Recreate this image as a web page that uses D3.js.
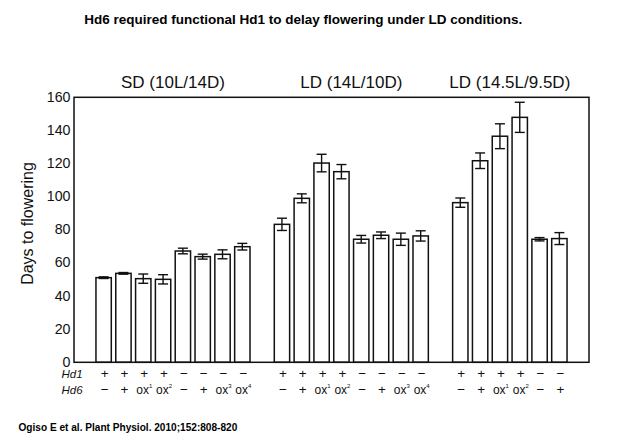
<!DOCTYPE html>
<html>
<head>
<meta charset="utf-8">
<script src="https://cdn.jsdelivr.net/npm/d3@7"></script>
<style>
  html, body { margin: 0; padding: 0; background: #fff; }
  svg { display: block; font-family: "Liberation Sans", Arial, Helvetica, sans-serif; }
</style>
</head>
<body>
<svg id="chart" width="621" height="446"></svg>
<script>
// ---- Data ----
const groupNames = ["SD (10L/14D)", "LD (14L/10D)", "LD (14.5L/9.5D)"];
const sdValues   = [51.1, 53.7, 50.5, 50.1, 67.2, 63.8, 65.2, 69.8];
const sdErrors   = [0.5, 0.5, 2.8, 2.8, 1.7, 1.5, 2.7, 2.0];
const ld14Values = [83.3, 99.0, 120.3, 115.1, 74.3, 76.7, 74.3, 76.3];
const ld14Errors = [3.7, 2.7, 5.3, 4.3, 2.3, 2.0, 3.7, 3.1];
const ld145Values = [96.4, 121.7, 136.5, 147.9, 74.3, 74.7];
const ld145Errors = [2.8, 4.7, 7.5, 9.1, 1.0, 3.6];
const hd1Labels = ["+", "+", "+", "+", "\u2212", "\u2212", "\u2212", "\u2212"];
const hd6Labels = ["\u2212", "+", "ox|1", "ox|2", "\u2212", "+", "ox|3", "ox|4"];
const yTicks = [0, 20, 40, 60, 80, 100, 120, 140, 160];
const titleText = "Hd6 required functional Hd1 to delay flowering under LD conditions.";
const sourceText = "Ogiso E et al. Plant Physiol. 2010;152:808-820";

// ---- Build bar table ----
const groupValues = [sdValues, ld14Values, ld145Values];
const groupErrors = [sdErrors, ld14Errors, ld145Errors];
const bars = [];
const slots = [];
groupValues.forEach((vals, g) => {
  vals.forEach((v, i) => {
    const key = g + "-" + i;
    slots.push(key);
    bars.push({ key, group: g, value: v, err: groupErrors[g][i], hd1: hd1Labels[i], hd6: hd6Labels[i] });
  });
  if (g < groupValues.length - 1) slots.push("gap" + g);
});

// ---- Layout ----
const frame = { left: 74, right: 589, top: 97.3, bottom: 362.3 };
const svg = d3.select("#chart");

const x = d3.scaleBand().domain(slots).range([frame.left, frame.right])
  .paddingInner(0.15).paddingOuter(1.07);
const y = d3.scaleLinear().domain([0, 160]).range([frame.bottom, frame.top]);

// Title
svg.append("text").attr("x", 303.3).attr("y", 24.3)
  .attr("text-anchor", "middle").attr("font-size", 13.5).attr("font-weight", "bold")
  .text(titleText);

// Source
svg.append("text").attr("x", 18.5).attr("y", 430.5)
  .attr("font-size", 10.1).attr("font-weight", "bold")
  .text(sourceText);

// Bars
svg.append("g").selectAll("rect").data(bars).join("rect")
  .attr("x", d => x(d.key) + 0.75)
  .attr("y", d => y(d.value))
  .attr("width", x.bandwidth() - 1.5)
  .attr("height", d => y(0) - y(d.value))
  .attr("fill", "#fff").attr("stroke", "#111").attr("stroke-width", 1.5);

// Error bars
const eb = svg.append("g").attr("stroke", "#111").attr("stroke-width", 1.4);
const cap = 5;
bars.forEach(d => {
  const cx = x(d.key) + x.bandwidth() / 2;
  eb.append("line").attr("x1", cx).attr("x2", cx).attr("y1", y(d.value + d.err)).attr("y2", y(d.value - d.err));
  eb.append("line").attr("x1", cx - cap).attr("x2", cx + cap).attr("y1", y(d.value + d.err)).attr("y2", y(d.value + d.err));
  eb.append("line").attr("x1", cx - cap).attr("x2", cx + cap).attr("y1", y(d.value - d.err)).attr("y2", y(d.value - d.err));
});

// Frame
svg.append("rect").attr("x", frame.left).attr("y", frame.top)
  .attr("width", frame.right - frame.left).attr("height", frame.bottom - frame.top)
  .attr("fill", "none").attr("stroke", "#111").attr("stroke-width", 1.5);

// Y axis
const yAxis = svg.append("g").attr("transform", `translate(${frame.left},0)`)
  .call(d3.axisLeft(y).tickValues(yTicks).tickSize(0).tickPadding(3.5));
yAxis.select(".domain").remove();
yAxis.selectAll("text").attr("font-size", 14.2).attr("fill", "#111")
  .attr("dy", "0.28em")
  .attr("font-family", "'Liberation Sans', Arial, sans-serif");

// Y label
svg.append("text").attr("transform", "translate(32.5,223.5) rotate(-90)")
  .attr("text-anchor", "middle").attr("font-size", 16).attr("fill", "#111")
  .text("Days to flowering");

// Group titles
groupNames.forEach((name, g) => {
  const gb = bars.filter(b => b.group === g);
  const x0 = x(gb[0].key), x1 = x(gb[gb.length - 1].key) + x.bandwidth();
  svg.append("text").attr("x", (x0 + x1) / 2).attr("y", 88)
    .attr("text-anchor", "middle").attr("font-size", 17).attr("fill", "#111")
    .text(name);
});

// Genotype row labels
svg.append("text").attr("x", 61.5).attr("y", 378).attr("font-size", 11.5)
  .attr("font-style", "italic").attr("fill", "#111").text("Hd1");
svg.append("text").attr("x", 61.5).attr("y", 393.5).attr("font-size", 11.5)
  .attr("font-style", "italic").attr("fill", "#111").text("Hd6");

const lab = svg.append("g").attr("fill", "#111").attr("text-anchor", "middle");
bars.forEach(d => {
  const cx = x(d.key) + x.bandwidth() / 2;
  lab.append("text").attr("x", cx + 1).attr("y", 378).attr("font-size", 13.5).text(d.hd1);
  const t = lab.append("text").attr("x", cx + 1).attr("y", 393.5).attr("font-size", 13.5);
  if (d.hd6.indexOf("|") >= 0) {
    const [base, sup] = d.hd6.split("|");
    t.attr("font-size", 12);
    t.append("tspan").text(base);
    t.append("tspan").attr("font-size", 6).attr("dy", -6).text(sup);
  } else {
    t.text(d.hd6);
  }
});
</script>
</body>
</html>
